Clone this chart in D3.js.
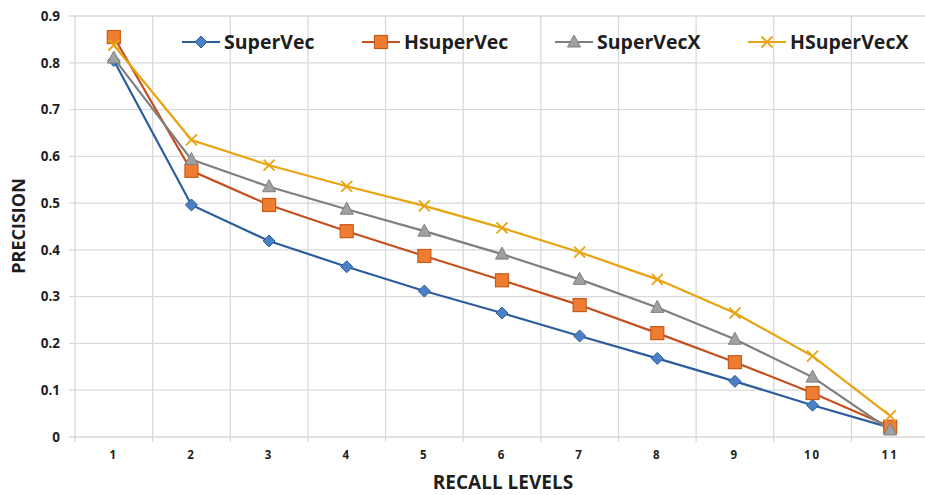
<!DOCTYPE html>
<html>
<head>
<meta charset="utf-8">
<script src="https://cdn.jsdelivr.net/npm/d3@7"></script>
<style>
  body { margin: 0; background: #fff; }
  text { font-family: "Open Sans", "DejaVu Sans", sans-serif; font-weight: bold; fill: #1e1e1e; }
</style>
</head>
<body>
<script>
// recall levels on the x axis
var levels = [1, 2, 3, 4, 5, 6, 7, 8, 9, 10, 11];
var yTicks = [0, 0.1, 0.2, 0.3, 0.4, 0.5, 0.6, 0.7, 0.8, 0.9];

var superVec   = [0.805, 0.496, 0.419, 0.364, 0.312, 0.265, 0.216, 0.168, 0.119, 0.068, 0.02];
var hsuperVec  = [0.855, 0.569, 0.496, 0.440, 0.387, 0.335, 0.282, 0.222, 0.160, 0.094, 0.022];
var superVecX  = [0.810, 0.593, 0.535, 0.487, 0.440, 0.391, 0.337, 0.277, 0.209, 0.128, 0.015];
var hSuperVecX = [0.838, 0.635, 0.581, 0.536, 0.494, 0.447, 0.395, 0.337, 0.265, 0.173, 0.045];

var seriesNames = ["SuperVec", "HsuperVec", "SuperVecX", "HSuperVecX"];

var series = [
    { name: seriesNames[0], values: superVec,   line: "#2c5d9c", fill: "#4a80c4", stroke: "#2c5d9c", marker: "diamond" },
    { name: seriesNames[1], values: hsuperVec,  line: "#c4501f", fill: "#ef7d31", stroke: "#c85a1a", marker: "square" },
    { name: seriesNames[2], values: superVecX,  line: "#7f7f7f", fill: "#a0a0a0", stroke: "#7f7f7f", marker: "triangle" },
    { name: seriesNames[3], values: hSuperVecX, line: "#e8a40f", fill: "none",    stroke: "#e8a40f", marker: "x" }
];

var W = 925, H = 495;
var margin = { top: 16, right: -4, bottom: 58, left: 75 };
var width = W - margin.left - margin.right,
    height = H - margin.top - margin.bottom;

var svg = d3.select("body").append("svg")
    .attr("width", W)
    .attr("height", H);

var g = svg.append("g")
    .attr("transform", "translate(" + margin.left + "," + margin.top + ")");

var x = d3.scaleBand().domain(levels).range([0, width]);
var y = d3.scaleLinear().domain([0, 0.9]).range([height, 0]);

// horizontal gridlines
g.append("g")
    .selectAll("line")
    .data(yTicks)
    .enter().append("line")
    .attr("x1", -6).attr("x2", width)
    .attr("y1", d => y(d)).attr("y2", d => y(d))
    .attr("stroke", "#d9d9d9").attr("stroke-width", 1.3);

// vertical gridlines on category boundaries
var bounds = levels.map(d => x(d)).concat([width]);
g.append("g")
    .selectAll("line")
    .data(bounds)
    .enter().append("line")
    .attr("x1", d => d).attr("x2", d => d)
    .attr("y1", 0).attr("y2", height + 5)
    .attr("stroke", "#d9d9d9").attr("stroke-width", 1.3);

// y tick labels
g.append("g")
    .selectAll("text")
    .data(yTicks)
    .enter().append("text")
    .attr("x", -15)
    .attr("y", d => y(d))
    .attr("dy", "0.35em")
    .attr("text-anchor", "end")
    .style("font-size", "13.5px")
    .text(d => d === 0 ? "0" : d3.format(".1f")(d));

// x tick labels
g.append("g")
    .selectAll("text")
    .data(levels)
    .enter().append("text")
    .attr("x", d => x(d) + x.bandwidth() / 2)
    .attr("y", height + 22)
    .attr("text-anchor", "middle")
    .style("font-size", "11.5px")
    .style("letter-spacing", "2px")
    .text(d => d);

// axis titles
svg.append("text")
    .attr("x", 503).attr("y", 489)
    .attr("text-anchor", "middle")
    .style("font-size", "19px")
    .text("RECALL LEVELS");

svg.append("text")
    .attr("transform", "translate(25,226) rotate(-90)")
    .attr("text-anchor", "middle")
    .style("font-size", "18px")
    .text("PRECISION");

var line = d3.line()
    .x((d, i) => x(levels[i]) + x.bandwidth() / 2)
    .y(d => y(d));

function drawMarker(sel, s) {
    if (s.marker === "diamond") {
        sel.append("path").attr("d", "M0,-6L6,0L0,6L-6,0Z")
            .attr("fill", s.fill).attr("stroke", s.stroke).attr("stroke-width", 1);
    } else if (s.marker === "square") {
        sel.append("rect").attr("x", -6.5).attr("y", -6.5).attr("width", 13).attr("height", 13)
            .attr("fill", s.fill).attr("stroke", s.stroke).attr("stroke-width", 1.2);
    } else if (s.marker === "triangle") {
        sel.append("path").attr("d", "M0,-7L6.5,5L-6.5,5Z")
            .attr("fill", s.fill).attr("stroke", s.stroke).attr("stroke-width", 1);
    } else {
        sel.append("path").attr("d", "M-5.5,-5.5L5.5,5.5M5.5,-5.5L-5.5,5.5")
            .attr("fill", "none").attr("stroke", s.stroke).attr("stroke-width", 1.8);
    }
}

series.forEach(s => {
    g.append("path")
        .datum(s.values)
        .attr("fill", "none")
        .attr("stroke", s.line)
        .attr("stroke-width", 2.2)
        .attr("d", line);
});

series.forEach(s => {
    s.values.forEach((v, i) => {
        var m = g.append("g")
            .attr("transform", "translate(" + (x(levels[i]) + x.bandwidth() / 2) + "," + y(v) + ")");
        drawMarker(m, s);
    });
});

// legend
var legendX = [182, 362, 555, 748];
var legend = svg.append("g");
series.forEach((s, i) => {
    var lg = legend.append("g").attr("transform", "translate(" + legendX[i] + ",42)");
    lg.append("line").attr("x1", 0).attr("x2", 38).attr("y1", 0).attr("y2", 0)
        .attr("stroke", s.line).attr("stroke-width", 2.2);
    var m = lg.append("g").attr("transform", "translate(19,0)");
    drawMarker(m, s);
    lg.append("text").attr("x", 42).attr("y", 0).attr("dy", "0.35em")
        .style("font-size", "19.5px")
        .text(s.name);
});
</script>
</body>
</html>
